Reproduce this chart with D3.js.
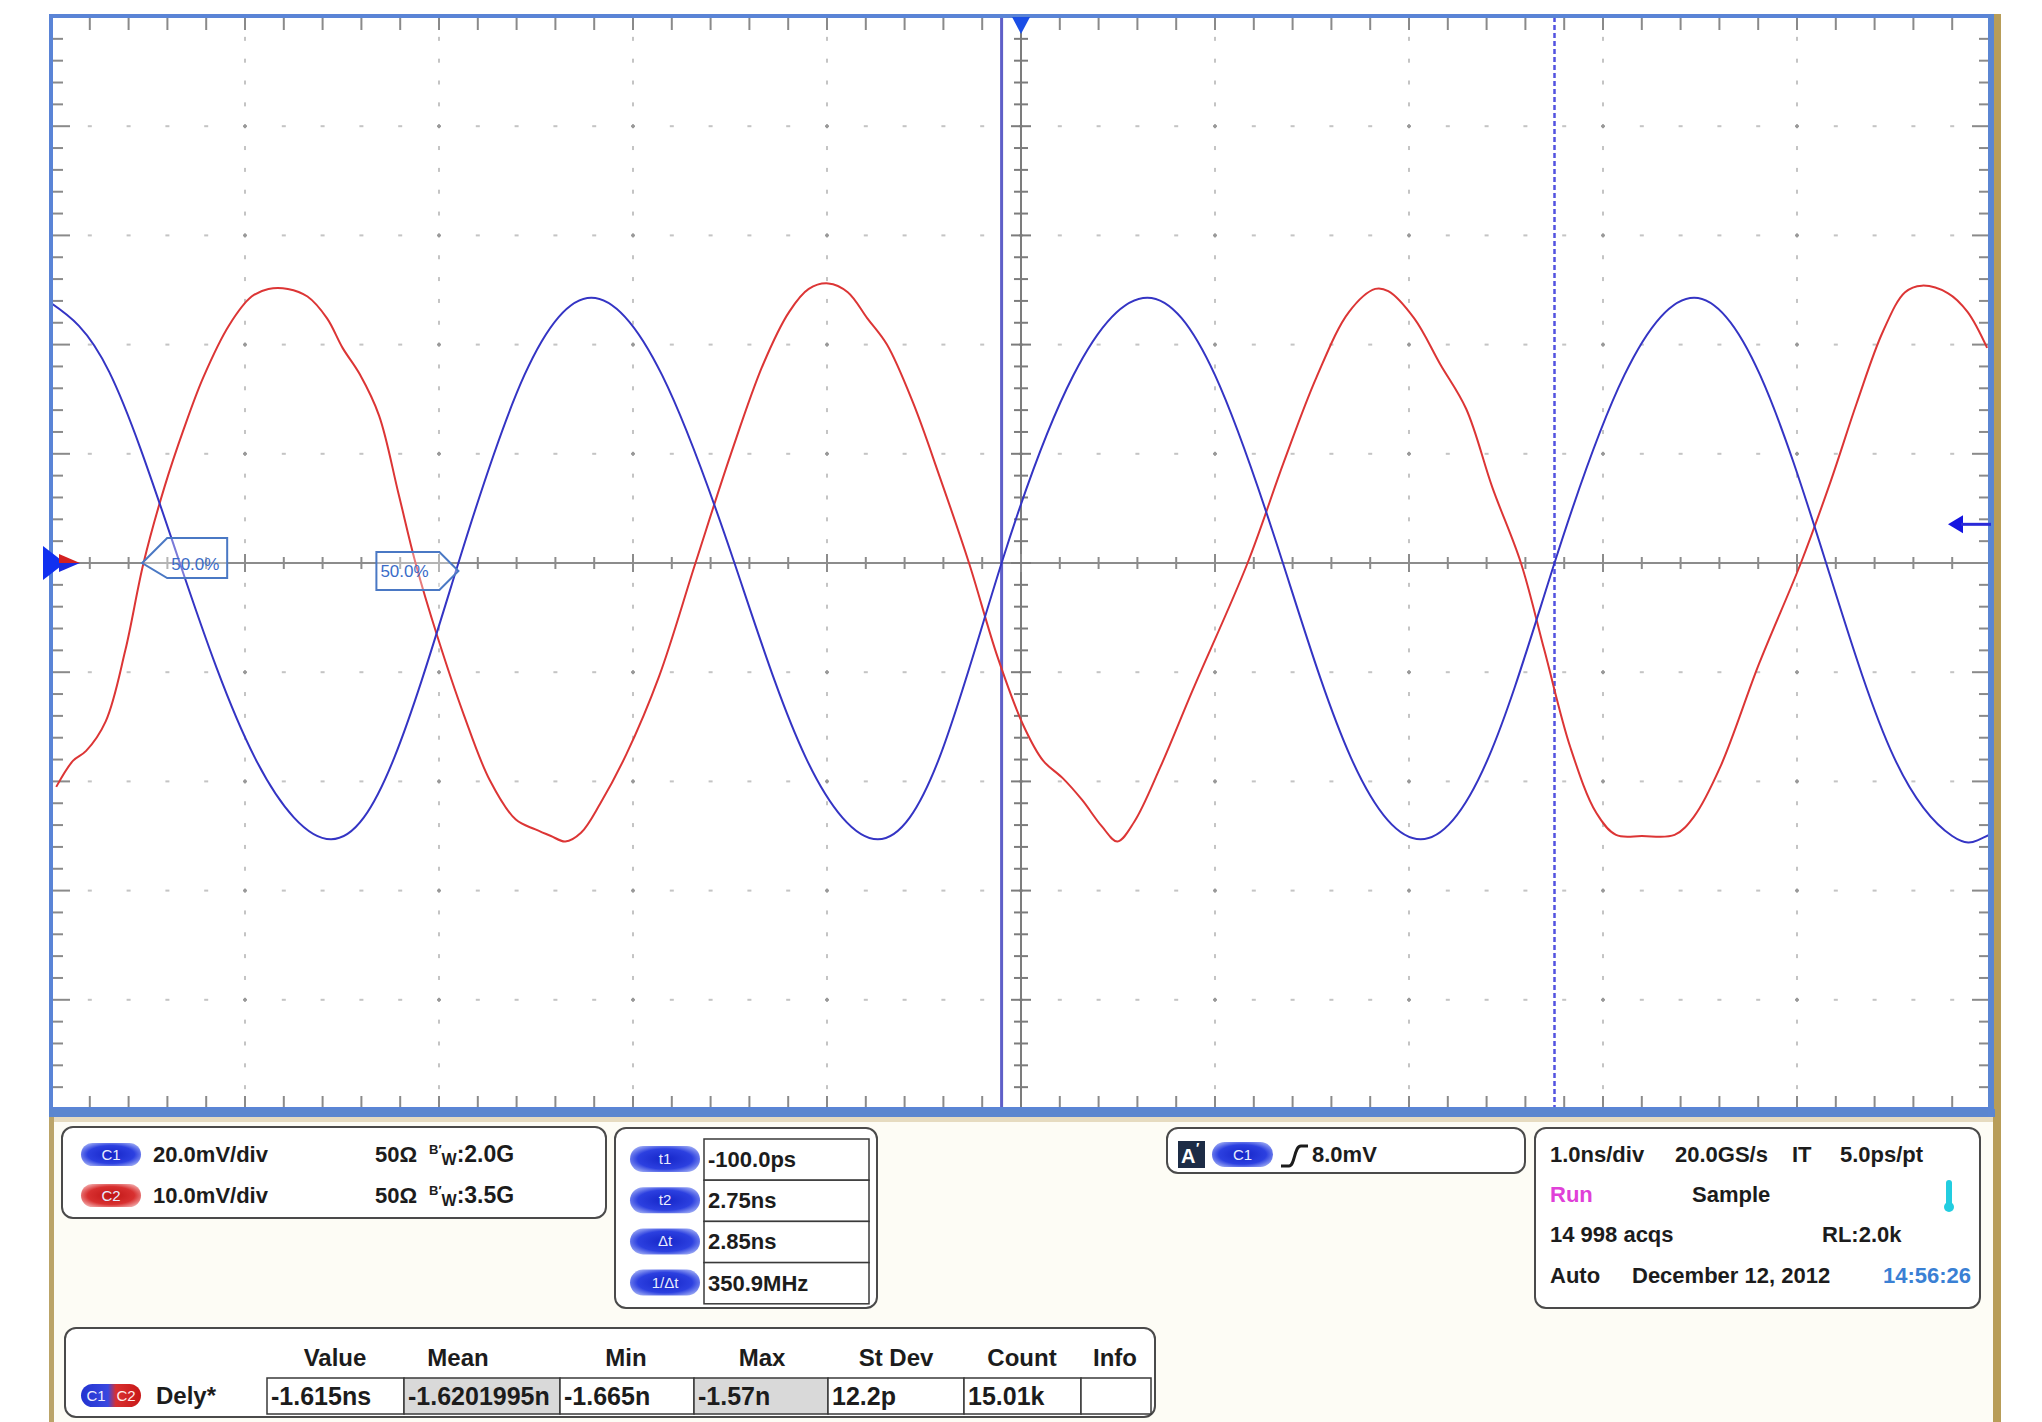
<!DOCTYPE html>
<html>
<head>
<meta charset="utf-8">
<script src="https://cdn.jsdelivr.net/npm/d3@7"></script>
<style>
  body { margin: 0; background: #fff; }
  text { font-family: "Liberation Sans", Arial, sans-serif; }
</style>
</head>
<body>
<svg id="scope"></svg>
<script>
// C1 trace, time in ns, level in mV
const c1Time = [-5.00,-4.70,-4.336,-3.95,-3.557,-3.23,-2.90,-2.56,-2.215,-1.85,-1.477,-1.11,-0.738,-0.42,-0.10,0.27,0.651,1.00,1.35,1.70,2.06,2.41,2.75,3.11,3.47,3.81,4.15,4.50,4.80,4.93,5.00];
const c1Volt = [47.6,35.0,0,-35.6,-50.6,-35.6,0,34.4,48.6,34.4,0,-35.6,-50.6,-35.6,0,34.4,48.6,34.4,0,-35.6,-50.6,-35.6,0,34.4,48.6,34.4,0,-35.6,-50.0,-50.8,-49.6];

// C2 trace
const c2Time = [-4.973,-4.886,-4.819,-4.718,-4.617,-4.523,-4.416,-4.315,-4.215,-4.081,
  -3.966,-3.879,-3.779,-3.678,-3.577,-3.497,-3.409,-3.309,-3.208,-3.121,
  -3.007,-2.872,-2.738,-2.604,-2.503,-2.423,-2.349,-2.268,-2.168,-2.034,
  -1.866,-1.678,-1.497,-1.329,-1.195,-1.094,-0.993,-0.893,-0.792,-0.691,
  -0.557,-0.423,-0.268,-0.121,0.013,0.114,0.215,0.315,0.416,0.497,
  0.584,0.718,0.886,1.168,1.356,1.523,1.691,1.826,1.893,2.027,
  2.161,2.295,2.430,2.577,2.698,2.832,2.966,3.067,3.201,3.369,
  3.470,3.604,3.805,4.020,4.174,4.309,4.443,4.557,4.644,4.779,
  4.879,4.980];
const c2Volt = [-20.5,-18.1,-17.2,-14.5,-8.0,0,6.9,12.3,17.0,21.8,
  24.4,25.1,25.1,24.4,22.4,19.7,17.3,13.5,6.3,0,
  -6.8,-13.9,-19.9,-23.5,-24.4,-25.0,-25.5,-24.7,-22.0,-17.5,
  -10.4,0,9.9,18.2,23.0,25.1,25.6,24.8,22.4,20.0,
  14.7,8.1,0,-8.6,-14.9,-18.1,-19.7,-21.7,-24.1,-25.5,
  -23.7,-18.7,-11.6,0,9.3,17.0,23.0,25.1,24.9,22.4,
  18.2,14.1,6.9,0,-8.0,-16.9,-22.9,-24.9,-25.0,-24.9,
  -23.2,-18.7,-9.2,0,7.5,14.7,21.2,24.8,25.4,24.7,
  23.0,19.7];

// channel setup
const chanNames = ['C1', 'C2'];
const chanVdiv = [20, 10];          // mV/div
const chanBw = ['2.0G', '3.5G'];
const trigLevel = 8.0;              // mV on C1

// cursors
const cursorT = [-0.10, 2.75];      // ns
const cursorNames = ['t1', 't2', 'Δt', '1/Δt'];
const cursorVals = ['-100.0ps', '2.75ns', '2.85ns', '350.9MHz'];

// delay measurement (50% crossings of C2 and C1)
const delayCross = [-4.53, -2.90];
const measHeaders = ['Value', 'Mean', 'Min', 'Max', 'St Dev', 'Count', 'Info'];
const measVals = ['-1.615ns', '-1.6201995n', '-1.665n', '-1.57n', '12.2p', '15.01k', ''];

const W = 2042, H = 1422;
const L = 51, R = 1991, T = 17, B = 1109;

const svg = d3.select('#scope').attr('width', W).attr('height', H);
const defs = svg.append('defs');

const x = d3.scaleLinear().domain([-5, 5]).range([L, R]);
const yDiv = d3.scaleLinear().domain([-5, 5]).range([B, T]);
const yC1 = d3.scaleLinear().domain([-5 * chanVdiv[0], 5 * chanVdiv[0]]).range([B, T]);
const yC2 = d3.scaleLinear().domain([-5 * chanVdiv[1], 5 * chanVdiv[1]]).range([B, T]);

// gradients for the little channel pills
function pillGrad(id, c0, c1, c2) {
  const g = defs.append('radialGradient').attr('id', id).attr('cx', '50%').attr('cy', '50%').attr('r', '60%');
  g.append('stop').attr('offset', '0%').attr('stop-color', c0);
  g.append('stop').attr('offset', '65%').attr('stop-color', c1);
  g.append('stop').attr('offset', '100%').attr('stop-color', c2);
}
pillGrad('gBlue', '#1525c8', '#2c40e0', '#9aa8f4');
pillGrad('gRed', '#c01515', '#d83030', '#f2a8a8');
const gMix = defs.append('linearGradient').attr('id', 'gMix');
gMix.append('stop').attr('offset', '0%').attr('stop-color', '#2233d0');
gMix.append('stop').attr('offset', '45%').attr('stop-color', '#3a48e0');
gMix.append('stop').attr('offset', '58%').attr('stop-color', '#d83030');
gMix.append('stop').attr('offset', '100%').attr('stop-color', '#c81818');

defs.append('clipPath').attr('id', 'plotClip')
  .append('rect').attr('x', L).attr('y', T).attr('width', R - L).attr('height', B - T);

// page / panel background
svg.append('rect').attr('width', W).attr('height', H).attr('fill', '#fff');
svg.append('rect').attr('x', 50).attr('y', 1116).attr('width', 1950).attr('height', H - 1116).attr('fill', '#fdfcf5');
svg.append('rect').attr('x', 50).attr('y', 1117).attr('width', 1945).attr('height', 5).attr('fill', '#e6dbc0');
svg.append('rect').attr('x', 49).attr('y', 1117).attr('width', 5).attr('height', H - 1117).attr('fill', '#bba468');
svg.append('rect').attr('x', 1993).attr('y', 14).attr('width', 8).attr('height', H - 14).attr('fill', '#b89d58');

// graticule
const plot = svg.append('g');
plot.append('rect').attr('x', L).attr('y', T).attr('width', R - L).attr('height', B - T).attr('fill', '#fff');

const minorT = d3.range(-24, 25).map(i => i / 5);     // 0.2 ns steps
const minorV = d3.range(-24, 25).map(i => i / 5);     // 0.2 div steps
const majors = d3.range(-4, 5).filter(d => d !== 0);
const isMajor = d => Math.abs(d - Math.round(d)) < 1e-6;

// dotted grid
majors.forEach(v => {
  plot.selectAll(null).data(minorT).enter().append('rect')
    .attr('x', d => x(d) - 2).attr('y', yDiv(v) - 1)
    .attr('width', 4).attr('height', 2)
    .attr('fill', d => isMajor(d) ? '#999' : '#c4c4c4');
});
majors.forEach(t => {
  plot.selectAll(null).data(minorV).enter().append('rect')
    .attr('x', x(t) - 1).attr('y', d => yDiv(d) - 2)
    .attr('width', 2).attr('height', 4)
    .attr('fill', d => isMajor(d) ? '#999' : '#c4c4c4');
});

// frame ticks
const tickCol = '#8a8a8a';
plot.selectAll(null).data(minorT).enter().append('line')
  .attr('x1', d => x(d)).attr('x2', d => x(d)).attr('y1', T).attr('y2', T + 13)
  .attr('stroke', tickCol).attr('stroke-width', 2);
plot.selectAll(null).data(minorT).enter().append('line')
  .attr('x1', d => x(d)).attr('x2', d => x(d)).attr('y1', B).attr('y2', B - 13)
  .attr('stroke', tickCol).attr('stroke-width', 2);
plot.selectAll(null).data(minorV).enter().append('line')
  .attr('x1', L).attr('x2', d => L + (isMajor(d) ? 19 : 12))
  .attr('y1', d => yDiv(d)).attr('y2', d => yDiv(d))
  .attr('stroke', tickCol).attr('stroke-width', 2);
plot.selectAll(null).data(minorV).enter().append('line')
  .attr('x1', R).attr('x2', d => R - (isMajor(d) ? 19 : 12))
  .attr('y1', d => yDiv(d)).attr('y2', d => yDiv(d))
  .attr('stroke', tickCol).attr('stroke-width', 2);

// centre axes
const cx0 = x(0), cy0 = yDiv(0);
plot.append('line').attr('x1', L).attr('x2', R).attr('y1', cy0).attr('y2', cy0)
  .attr('stroke', '#8c8c8c').attr('stroke-width', 2);
plot.append('line').attr('x1', cx0).attr('x2', cx0).attr('y1', T).attr('y2', B)
  .attr('stroke', '#7c7c7c').attr('stroke-width', 2);
plot.selectAll(null).data(minorT).enter().append('line')
  .attr('x1', d => x(d)).attr('x2', d => x(d))
  .attr('y1', d => cy0 - (isMajor(d) ? 9 : 6)).attr('y2', d => cy0 + (isMajor(d) ? 9 : 6))
  .attr('stroke', '#8c8c8c').attr('stroke-width', 2);
plot.selectAll(null).data(minorV).enter().append('line')
  .attr('x1', d => cx0 - (isMajor(d) ? 10 : 7)).attr('x2', d => cx0 + (isMajor(d) ? 10 : 7))
  .attr('y1', d => yDiv(d)).attr('y2', d => yDiv(d))
  .attr('stroke', '#7c7c7c').attr('stroke-width', 2);

// cursors
plot.append('line').attr('x1', x(cursorT[0])).attr('x2', x(cursorT[0])).attr('y1', T).attr('y2', B)
  .attr('stroke', '#5f5fc8').attr('stroke-width', 3);
plot.append('line').attr('x1', x(cursorT[1])).attr('x2', x(cursorT[1])).attr('y1', T).attr('y2', B)
  .attr('stroke', '#5252e0').attr('stroke-width', 2.5).attr('stroke-dasharray', '5,3');

// traces
const c2Pts = c2Time.map((t, i) => [t, c2Volt[i]]);
const c1Pts = c1Time.map((t, i) => [t, c1Volt[i]]);
const traces = plot.append('g').attr('clip-path', 'url(#plotClip)');
traces.append('path').datum(c2Pts)
  .attr('d', d3.line().x(d => x(d[0])).y(d => yC2(d[1])).curve(d3.curveCatmullRom.alpha(0.5)))
  .attr('fill', 'none').attr('stroke', '#dc3535').attr('stroke-width', 2);
traces.append('path').datum(c1Pts)
  .attr('d', d3.line().x(d => x(d[0])).y(d => yC1(d[1])).curve(d3.curveNatural))
  .attr('fill', 'none').attr('stroke', '#3434c4').attr('stroke-width', 2);

// 50% measurement flags
const lx = x(delayCross[0]);
plot.append('path')
  .attr('d', `M${lx},${cy0} L${lx + 25},${cy0 - 25} L${lx + 85},${cy0 - 25} L${lx + 85},${cy0 + 15} L${lx + 25},${cy0 + 15} Z`)
  .attr('fill', 'rgba(255,255,255,0.35)').attr('stroke', '#4a78c4').attr('stroke-width', 2);
plot.append('text').attr('x', lx + 29).attr('y', cy0 + 7).text('50.0%')
  .attr('font-size', 17).attr('fill', '#3a6cc8');
const rx = x(delayCross[1]);
const ry = cy0 + 8;
plot.append('path')
  .attr('d', `M${rx},${ry} L${rx - 19},${ry - 19} L${rx - 82},${ry - 19} L${rx - 82},${ry + 19} L${rx - 19},${ry + 19} Z`)
  .attr('fill', 'rgba(255,255,255,0.35)').attr('stroke', '#4a78c4').attr('stroke-width', 2);
plot.append('text').attr('x', rx - 78).attr('y', ry + 6).text('50.0%')
  .attr('font-size', 17).attr('fill', '#3a6cc8');

// frame
plot.append('rect').attr('x', L).attr('y', T - 1).attr('width', R - L).attr('height', B - T + 1)
  .attr('fill', 'none').attr('stroke', '#5a84d6').attr('stroke-width', 4);
plot.append('rect').attr('x', L - 2).attr('y', B).attr('width', R - L + 6).attr('height', 8).attr('fill', '#5b86cf');
plot.append('rect').attr('x', R - 3).attr('y', T - 3).attr('width', 6).attr('height', B - T + 11).attr('fill', '#5b86d2');

// markers: trigger position, ground refs, trigger level
plot.append('path').attr('d', `M${cx0 - 9},${T} L${cx0 + 9},${T} L${cx0},${T + 17} Z`).attr('fill', '#1a4ee6');
plot.append('path').attr('d', `M${L - 8},${cy0 - 17} L${L - 8},${cy0 + 17} L${L + 14},${cy0} Z`).attr('fill', '#1030f0');
plot.append('path').attr('d', `M${L + 8},${cy0 - 9} L${L + 29},${cy0} L${L + 8},${cy0} Z`).attr('fill', '#d42020');
plot.append('path').attr('d', `M${L + 8},${cy0} L${L + 29},${cy0} L${L + 8},${cy0 + 9} Z`).attr('fill', '#1a2ae0');
const ty = yC1(trigLevel) + 5;   // marker drawn a hair below the level, as on screen
plot.append('path').attr('d', `M${R - 43},${ty} L${R - 28},${ty - 9} L${R - 28},${ty + 9} Z`).attr('fill', '#1414e0');
plot.append('line').attr('x1', R - 30).attr('x2', R).attr('y1', ty).attr('y2', ty)
  .attr('stroke', '#2a2ad8').attr('stroke-width', 3);

// ---------- info panels ----------
const ink = '#1c1c1c';
function box(x0, y0, w, h) {
  svg.append('rect').attr('x', x0).attr('y', y0).attr('width', w).attr('height', h)
    .attr('rx', 11).attr('fill', '#fff').attr('stroke', '#4a4a4a').attr('stroke-width', 2);
}
function txt(x0, y0, s, size, color, anchor) {
  return svg.append('text').attr('x', x0).attr('y', y0).text(s)
    .attr('font-size', size || 22).attr('font-weight', 'bold')
    .attr('fill', color || ink).attr('text-anchor', anchor || 'start');
}
function pill(x0, y0, w, h, fill, label) {
  svg.append('rect').attr('x', x0).attr('y', y0).attr('width', w).attr('height', h)
    .attr('rx', h / 2).attr('fill', fill);
  svg.append('text').attr('x', x0 + w / 2).attr('y', y0 + h / 2 + 5).text(label)
    .attr('font-size', 15).attr('fill', '#e8ecff').attr('text-anchor', 'middle');
}

// channels
box(62, 1127, 544, 91);
chanNames.forEach((c, i) => {
  const yy = 1162 + i * 41;
  pill(81, yy - 19, 60, 23, i === 0 ? 'url(#gBlue)' : 'url(#gRed)', c);
  txt(153, yy, chanVdiv[i].toFixed(1) + 'mV/div');
  txt(375, yy, '50Ω');
  const bw = svg.append('text').attr('x', 429).attr('y', yy).attr('font-weight', 'bold').attr('fill', ink);
  bw.append('tspan').attr('font-size', 13).attr('dy', -8).text('B′');
  bw.append('tspan').attr('font-size', 16).attr('dy', 11).text('W');
  bw.append('tspan').attr('font-size', 23).attr('dy', -3).text(':' + chanBw[i]);
});

// cursors
box(615, 1128, 262, 180);
const cellX = 704, cellW = 165, rowH = 41.2, row0 = 1139;
cursorNames.forEach((c, i) => {
  const yy = row0 + i * rowH;
  pill(630, yy + 7, 70, 26, 'url(#gBlue)', c);
  svg.append('rect').attr('x', cellX).attr('y', yy).attr('width', cellW).attr('height', rowH)
    .attr('fill', '#fff').attr('stroke', '#3a3a3a').attr('stroke-width', 1.5);
  txt(cellX + 4, yy + 28, cursorVals[i]);
});

// trigger
box(1167, 1128, 358, 45);
svg.append('rect').attr('x', 1178).attr('y', 1141).attr('width', 27).attr('height', 27).attr('fill', '#1d2c46');
txt(1181, 1163, 'A', 20, '#fff');
txt(1196, 1153, '′', 14, '#fff');
pill(1212, 1142, 61, 25, 'url(#gBlue)', chanNames[0]);
svg.append('path').attr('d', 'M1281,1166 L1289,1166 C1295,1166 1294,1146 1301,1146 L1308,1146')
  .attr('fill', 'none').attr('stroke', ink).attr('stroke-width', 3);
txt(1312, 1162, trigLevel.toFixed(1) + 'mV');

// timebase / acquisition
box(1535, 1128, 445, 180);
txt(1550, 1162, '1.0ns/div');
txt(1675, 1162, '20.0GS/s');
txt(1792, 1162, 'IT');
txt(1840, 1162, '5.0ps/pt');
txt(1550, 1202, 'Run', 22, '#e040d8');
txt(1692, 1202, 'Sample');
svg.append('rect').attr('x', 1946).attr('y', 1180).attr('width', 6).attr('height', 27).attr('rx', 3).attr('fill', '#22cde0');
svg.append('circle').attr('cx', 1949).attr('cy', 1207).attr('r', 5).attr('fill', '#22cde0');
txt(1550, 1242, '14 998 acqs');
txt(1822, 1242, 'RL:2.0k');
txt(1550, 1283, 'Auto');
txt(1632, 1283, 'December 12, 2012');
txt(1883, 1283, '14:56:26', 22, '#3a80d4');

// measurement table
box(65, 1328, 1090, 89);
const colEdges = [267, 404, 560, 694, 828, 964, 1081, 1151];
const headX = [335, 458, 626, 762, 896, 1022, 1115];
const narrow = '"Liberation Sans Narrow", "Liberation Sans", Arial, sans-serif';
measHeaders.forEach((h, i) => {
  txt(headX[i], 1366, h, 24).attr('text-anchor', 'middle').style('font-family', narrow);
});
measVals.forEach((v, i) => {
  svg.append('rect').attr('x', colEdges[i]).attr('y', 1378).attr('width', colEdges[i + 1] - colEdges[i]).attr('height', 36)
    .attr('fill', (i === 1 || i === 3) ? '#d9d9d9' : '#fff').attr('stroke', '#3a3a3a').attr('stroke-width', 1.5);
  txt(colEdges[i] + 4, 1405, v, 25).style('font-family', narrow);
});
svg.append('rect').attr('x', 81).attr('y', 1384).attr('width', 60).attr('height', 23).attr('rx', 11.5).attr('fill', 'url(#gMix)');
svg.append('text').attr('x', 96).attr('y', 1401).text('C1').attr('font-size', 15).attr('fill', '#eef').attr('text-anchor', 'middle');
svg.append('text').attr('x', 126).attr('y', 1401).text('C2').attr('font-size', 15).attr('fill', '#fee').attr('text-anchor', 'middle');
txt(156, 1404, 'Dely*', 24).style('font-family', narrow);
</script>
</body>
</html>
